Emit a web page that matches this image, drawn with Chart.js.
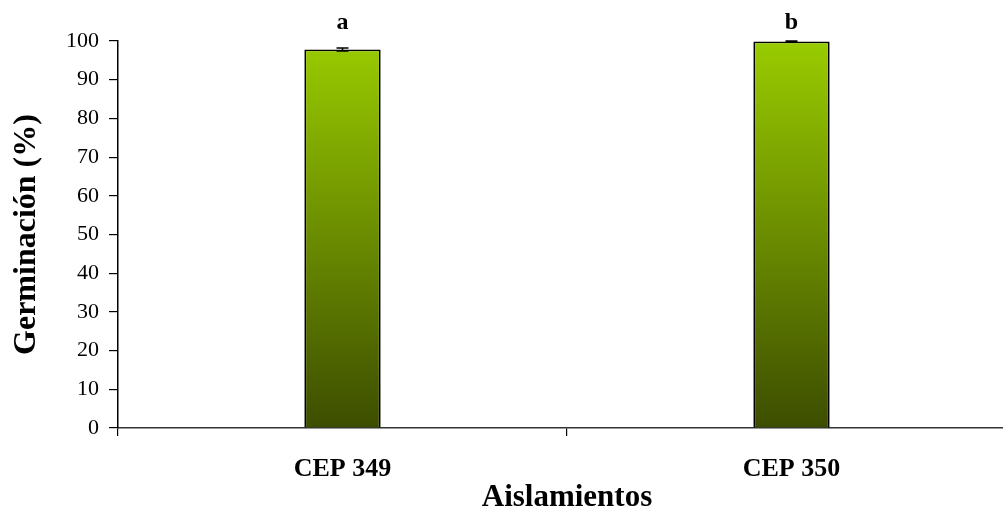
<!DOCTYPE html>
<html><head><meta charset="utf-8">
<script src="https://cdn.jsdelivr.net/npm/chart.js@4"></script>
<style>html,body{margin:0;padding:0;overflow:hidden;background:#fff;width:1003px;height:513px}canvas{display:block}</style>
</head><body>
<canvas id="c" width="1016" height="513" style="width:1016px;height:513px"></canvas>
<script>
const categories = ["CEP 349", "CEP 350"];
const germination = [97.8, 99.9];
const errors = [0.4, 0.1];
const letters = ["a", "b"];
const yTicks = [0,10,20,30,40,50,60,70,80,90,100];

const serif = "'Liberation Serif','Times New Roman',serif";

const extras = {
  id: 'extras',
  afterDatasetsDraw(chart) {
    const ctx = chart.ctx;
    const meta = chart.getDatasetMeta(0);
    const y = chart.scales.y;
    ctx.save();
    meta.data.forEach((bar, i) => {
      const v = germination[i], e = errors[i];
      const yt = y.getPixelForValue(v + e), yb = y.getPixelForValue(v - e);
      ctx.strokeStyle = '#000'; ctx.lineWidth = 1.5;
      ctx.beginPath();
      ctx.moveTo(bar.x, yt); ctx.lineTo(bar.x, yb);
      ctx.moveTo(bar.x - 6, yt); ctx.lineTo(bar.x + 6, yt);
      ctx.moveTo(bar.x - 6, yb); ctx.lineTo(bar.x + 6, yb);
      ctx.stroke();
      ctx.fillStyle = '#000';
      ctx.font = "bold 24px " + serif;
      ctx.textAlign = 'center'; ctx.textBaseline = 'alphabetic';
      ctx.fillText(letters[i], bar.x, 29);
    });
    ctx.restore();
  }
};

new Chart(document.getElementById('c'), {
  type: 'bar',
  data: {
    labels: categories,
    datasets: [{
      data: germination,
      backgroundColor: (c) => {
        const a = c.chart.chartArea;
        if (!a) return '#99cc00';
        const g = c.chart.ctx.createLinearGradient(0, a.top, 0, a.bottom);
        g.addColorStop(0, '#99cc00');
        g.addColorStop(1, '#3d4d00');
        return g;
      },
      borderColor: '#000',
      borderWidth: 1.8,
      barPercentage: 0.17,
      categoryPercentage: 1.0
    }]
  },
  options: {
    responsive: false,
    animation: false,
    devicePixelRatio: 1,
    layout: { padding: { top: 41, right: 0, left: 0, bottom: 0 } },
    plugins: { legend: { display: false }, tooltip: { enabled: false } },
    scales: {
      x: {
        offset: true,
        grid: { display: true, offset: true, drawOnChartArea: false, tickLength: 8, color: '#000', lineWidth: 1.2 },
        border: { display: true, color: '#333', width: 1.5 },
        ticks: { color: '#000', font: { family: serif, size: 26, weight: 'bold' }, padding: 18 },
        title: { display: true, text: 'Aislamientos', color: '#000', font: { family: serif, size: 31, weight: 'bold' }, padding: { top: 0, bottom: -4 } },
        afterFit(s) { s.height = 85; }
      },
      y: {
        min: 0, max: 100,
        afterBuildTicks(s) { s.ticks = yTicks.map(v => ({ value: v })); },
        grid: { display: true, drawOnChartArea: false, tickLength: 9, color: '#000', lineWidth: 1.2 },
        border: { display: true, color: '#000', width: 1.5 },
        ticks: { color: '#000', font: { family: serif, size: 22 }, padding: 10 },
        title: { display: true, text: 'Germinación (%)', color: '#000', font: { family: serif, size: 32, weight: 'bold' }, padding: { top: 8, bottom: 0 } },
        afterFit(s) { s.width = 118; }
      }
    }
  },
  plugins: [extras]
});
</script>
</body></html>
